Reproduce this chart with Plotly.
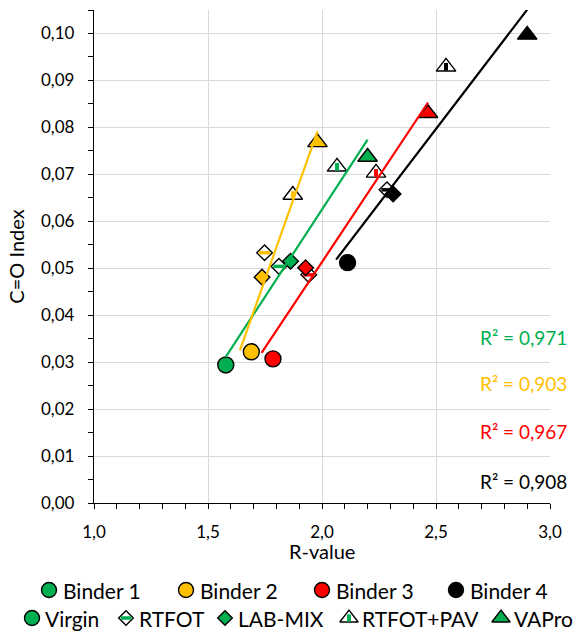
import numpy as np
import plotly.graph_objects as go

# ---------------- data ----------------
stages = ["Virgin", "RTFOT", "LAB-MIX", "RTFOT+PAV", "VAPro"]
binders = ["Binder 1", "Binder 2", "Binder 3", "Binder 4"]
binder_colors = ["#00B050", "#FFC000", "#FF0000", "#000000"]

# R-value per stage (Virgin, RTFOT, LAB-MIX, RTFOT+PAV, VAPro)
rvalue_b1 = [1.578, 1.811, 1.862, 2.066, 2.200]
rvalue_b2 = [1.690, 1.748, 1.737, 1.872, 1.980]
rvalue_b3 = [1.785, 1.942, 1.928, 2.237, 2.465]
rvalue_b4 = [2.112, 2.285, 2.312, 2.544, 2.900]

# C=O index per stage
co_b1 = [0.0294, 0.0504, 0.0515, 0.0716, 0.0737]
co_b2 = [0.0322, 0.0533, 0.0481, 0.0656, 0.0768]
co_b3 = [0.0307, 0.0486, 0.0501, 0.0703, 0.0830]
co_b4 = [0.0512, 0.0667, 0.0658, 0.0929, 0.0997]

# trendline backward forecast (R-value units) and reported R²
trend_backcast = [0.0, 0.05, 0.05, 0.05]
r2_labels = ["R² = 0,971", "R² = 0,903", "R² = 0,967", "R² = 0,908"]

# ---------------- figure ----------------
rvals = [rvalue_b1, rvalue_b2, rvalue_b3, rvalue_b4]
covals = [co_b1, co_b2, co_b3, co_b4]

FONT = "Lato"
W, H = 573, 633
PL, PR, PT, PB = 94, 550, 10, 503          # plot-area edges in pixels
BORDER = dict(color="black", width=1.4)
TRI, DIA, CIR = 17, 12, 16
STAGE_STYLE = {
    # symbol, filled with binder colour?, stripe symbol
    "Virgin": ("circle", True, None),
    "RTFOT": ("diamond", False, "line-ew"),
    "LAB-MIX": ("diamond", True, None),
    "RTFOT+PAV": ("triangle-up", False, "line-ns"),
    "VAPro": ("triangle-up", True, None),
}
SYM_SIZE = {"circle": CIR, "diamond": DIA, "triangle-up": TRI}
STRIPE = {"line-ew": (8, 3.5), "line-ns": (5.5, 4)}


def add_marker(fig, x, y, stage, col, xaxis="x", yaxis="y", scale=1.0):
    sym, filled, stripe = STAGE_STYLE[stage]
    fig.add_trace(go.Scatter(x=[x], y=[y], mode="markers", showlegend=False,
                             xaxis=xaxis, yaxis=yaxis, hoverinfo="skip",
                             marker=dict(symbol=sym, size=SYM_SIZE[sym] * scale,
                                         color=col if filled else "white", line=BORDER)))
    if stripe:
        sz, lw = STRIPE[stripe]
        fig.add_trace(go.Scatter(x=[x], y=[y], mode="markers", showlegend=False,
                                 xaxis=xaxis, yaxis=yaxis, hoverinfo="skip",
                                 marker=dict(symbol=stripe, size=sz * scale, color=col,
                                             line=dict(color=col, width=lw))))


fig = go.Figure()

for bi, col in enumerate(binder_colors):
    for si, st in enumerate(stages):
        add_marker(fig, rvals[bi][si], covals[bi][si], st, col)

# trendlines (drawn on top of markers)
for bi, col in enumerate(binder_colors):
    xs = np.array(rvals[bi]); ys = np.array(covals[bi])
    k, b = np.polyfit(xs, ys, 1)
    x0 = xs.min() - trend_backcast[bi]
    x1 = xs.max()
    fig.add_trace(go.Scatter(x=[x0, x1], y=[k * x0 + b, k * x1 + b], mode="lines",
                             showlegend=False, line=dict(color=col, width=2.2),
                             hoverinfo="skip"))

# R² labels (x in overlay pixel units, y in data units)
r2_y = [0.0353, 0.0255, 0.0153, 0.0045]
for lab, col, yy in zip(r2_labels, binder_colors, r2_y):
    fig.add_annotation(x=569, xref="x2", y=yy, yref="y", text=lab, showarrow=False,
                       xanchor="right", yanchor="middle",
                       font=dict(family=FONT, size=19, color=col))

# x-axis title
fig.add_annotation(x=(PL + PR) / 2, y=551, xref="x2", yref="y2", text="R-value",
                   showarrow=False, xanchor="center", yanchor="middle",
                   font=dict(family=FONT, size=20, color="black"))

# ---------------- legend (drawn on a hidden full-page pixel axis) ----------------
row1_px = [49, 186, 322, 456]
row2_px = [32, 126, 225, 349, 501]
ROW1_Y, ROW2_Y = 590, 618
TEXT_GAP = 12
for nm, col, px in zip(binders, binder_colors, row1_px):
    add_marker(fig, px, ROW1_Y, "Virgin", col, "x2", "y2", scale=15 / 16)
    fig.add_annotation(x=px + TEXT_GAP, y=ROW1_Y, xref="x2", yref="y2", text=nm,
                       showarrow=False, xanchor="left", yanchor="middle",
                       font=dict(family=FONT, size=21, color="black"))
for st, px in zip(stages, row2_px):
    add_marker(fig, px, ROW2_Y, st, binder_colors[0], "x2", "y2", scale=15 / 16)
    fig.add_annotation(x=px + TEXT_GAP - 1, y=ROW2_Y, xref="x2", yref="y2", text=st,
                       showarrow=False, xanchor="left", yanchor="middle",
                       font=dict(family=FONT, size=21, color="black"))

fig.update_layout(
    width=W, height=H,
    margin=dict(l=0, r=0, t=PT, b=0, autoexpand=False),
    plot_bgcolor="rgba(0,0,0,0)", paper_bgcolor="white",
    separators=", ",
    showlegend=False,
    font=dict(family=FONT, size=17, color="black"),
    xaxis=dict(domain=[PL / W, PR / W], anchor="y",
               range=[1.0, 3.0], dtick=0.5, tick0=1.0, tickformat=".1f",
               showgrid=True, gridcolor="#D9D9D9", gridwidth=1.3, zeroline=False,
               showline=True, linecolor="black", linewidth=1.3,
               ticks="outside", ticklen=5, tickcolor="black", tickwidth=1.3,
               minor=dict(dtick=0.1, ticks="outside", ticklen=5, tickcolor="black",
                          tickwidth=1.3, showgrid=False),
               ticklabelstandoff=8, automargin=False),
    yaxis=dict(domain=[(H - PB) / (H - PT), 1], anchor="x",
               range=[0, 0.105], dtick=0.01, tick0=0, tickformat=".2f",
               showgrid=True, gridcolor="#D9D9D9", gridwidth=1.3, zeroline=False,
               showline=True, linecolor="black", linewidth=1.3,
               ticks="outside", ticklen=5, tickcolor="black", tickwidth=1.3,
               minor=dict(dtick=0.005, ticks="outside", ticklen=5, tickcolor="black",
                          tickwidth=1.3, showgrid=False),
               ticklabelstandoff=10, automargin=False,
               title=dict(text="C=O Index", font=dict(family=FONT, size=20), standoff=10)),
    # hidden full-page axes in pixel units, used only to place legend and labels
    xaxis2=dict(domain=[0, 1], anchor="y2", range=[0, W], visible=False,
                showgrid=False, zeroline=False, fixedrange=True),
    yaxis2=dict(domain=[0, 1], anchor="x2", range=[H, PT], visible=False,
                showgrid=False, zeroline=False, fixedrange=True),
)

fig.write_html("out.html")
